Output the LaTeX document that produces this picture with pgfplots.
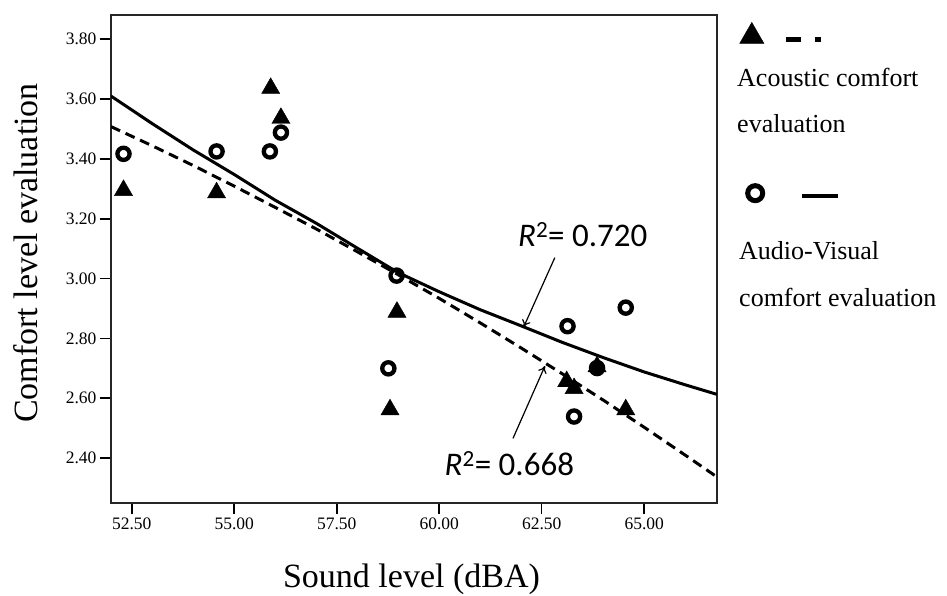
\documentclass[border=0pt]{standalone}
\usepackage{pgfplots}
\pgfplotsset{compat=1.18}
\usepackage{fontspec}
\setmainfont{Liberation Serif}
\newfontfamily\carlito{Carlito}
\usetikzlibrary{arrows.meta}
\begin{document}
\begin{tikzpicture}
\path[use as bounding box] (0pt,0pt) rectangle (947pt,596pt);
\begin{axis}[
  at={(111pt,93pt)}, anchor=south west,
  scale only axis, width=606pt, height=488pt,
  xmin=51.995, xmax=66.776, ymin=2.25, ymax=3.881,
  xtick={52.5,55,57.5,60,62.5,65},
  ytick={2.4,2.6,2.8,3.0,3.2,3.4,3.6,3.8},
  tick align=outside, tick pos=left,
  major tick length=11pt,
  tick style={black, line width=1.6pt},
  axis line style={black!85, line width=1.5pt},
  tick label style={/pgf/number format/assume math mode=true,
    /pgf/number format/fixed, /pgf/number format/fixed zerofill,
    /pgf/number format/precision=2,
    font=\fontsize{17.5}{20}\selectfont, text=black},
  xlabel={Sound level (dBA)}, ylabel={Comfort level evaluation},
  label style={font=\fontsize{34}{40}\selectfont},
  xlabel style={at={(axis description cs:0.4959,-0.1725)}, anchor=base},
  ylabel style={at={(axis description cs:-0.1205,0.5123)}, anchor=base},
  legend style={at={(1.034,0.9904)}, anchor=north west, draw=none, fill=none,
    inner sep=0pt, row sep=134.3pt, nodes={inner sep=0pt, text depth=0pt}},
  legend cell align=left,
]
\addlegendimage{black, solid, legend image code/.code={%
  \path[draw=none, fill=none] (0pt,-13pt) rectangle (101pt,13pt);
  \draw[black, solid, mark size=14pt] plot[mark=triangle*, only marks] coordinates {(14pt,-3.5pt)};
  \fill[black] (48.4pt,-8.3pt) rectangle (62.4pt,-4.3pt);
  \fill[black] (77.4pt,-8.3pt) rectangle (82.4pt,-4.3pt);
}}
\addlegendentry{\hbox{}}
\addlegendimage{black, solid, legend image code/.code={%
  \path[draw=none, fill=none] (0pt,-13pt) rectangle (101pt,13pt);
  \draw[black, solid, line width=5pt, mark size=7.5pt] plot[mark=o, only marks] coordinates {(17.4pt,0pt)};
  \draw[black, solid, line width=4pt] (64.4pt,-3pt) -- (100.4pt,-3pt);
}}
\addlegendentry{\hbox{}}

% Acoustic comfort evaluation (triangles)
\addplot[only marks, mark=triangle*, mark size=10.5pt, black, forget plot] coordinates {
(52.30,3.295) (54.57,3.287) (55.89,3.636) (56.14,3.536) (58.97,2.888)
(58.80,2.562) (63.11,2.656) (63.29,2.633) (63.85,2.706) (64.55,2.562)
};
% Audio-Visual comfort evaluation (circles)
\addplot[only marks, mark=o, mark size=6.1pt, black, mark options={line width=4.3pt}, forget plot] coordinates {
(52.30,3.417) (54.57,3.425) (55.87,3.425) (56.14,3.488) (58.96,3.010)
(58.76,2.700) (63.13,2.841) (63.29,2.539) (63.85,2.701) (64.55,2.903)
};
% Audio-Visual fit (solid)
\addplot[black, line width=3pt, no marks, forget plot] coordinates {
(51.995,3.610) (53,3.518) (54,3.430) (55,3.348) (56,3.262) (57,3.185)
(58,3.102) (59,3.020) (60,2.956) (61,2.896) (62,2.842) (63,2.787)
(64,2.736) (65,2.688) (66,2.645) (66.776,2.613)
};
% Acoustic fit (dashed)
\addplot[black, line width=3pt, no marks, dash pattern=on 10pt off 6pt, forget plot] coordinates {
(51.995,3.508) (53,3.444) (54,3.378) (55,3.309) (56,3.238) (57,3.166)
(58,3.090) (59,3.013) (60,2.934) (61,2.852) (62,2.768) (63,2.682)
(64,2.594) (65,2.503) (66,2.410) (66.776,2.337)
};

\node[anchor=base west, inner sep=0pt, font=\carlito\fontsize{33}{36}\selectfont] at (axis cs:61.92,3.107) {\textit{R}\textsuperscript{2}= 0.720};
\draw[line width=1.2pt, -{To[length=7pt,width=9pt]}] (axis cs:62.82,3.070) -- (axis cs:62.06,2.838);
\node[anchor=base west, inner sep=0pt, font=\carlito\fontsize{33}{36}\selectfont] at (axis cs:60.13,2.341) {\textit{R}\textsuperscript{2}= 0.668};
\draw[line width=1.2pt, -{To[length=7pt,width=9pt]}] (axis cs:61.80,2.466) -- (axis cs:62.58,2.708);
\end{axis}
\begin{scope}[every node/.style={anchor=base west, inner sep=0pt, font=\fontsize{26}{30}\selectfont}]
\node at (737pt,509pt) {Acoustic comfort};
\node at (737pt,463pt) {evaluation};
\node at (739pt,336pt) {Audio-Visual};
\node at (739pt,289.3pt) {comfort evaluation};
\end{scope}
\end{tikzpicture}
\end{document}
